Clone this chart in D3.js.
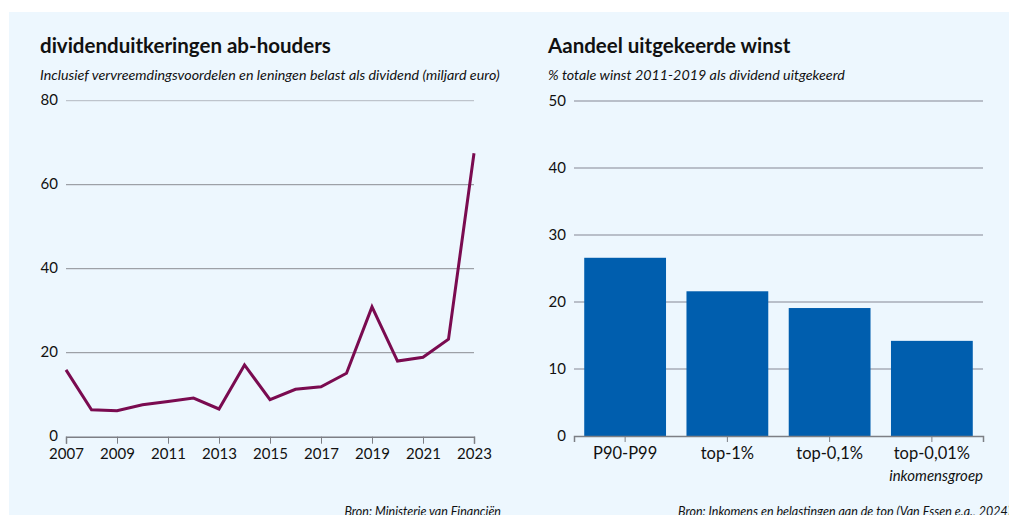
<!DOCTYPE html>
<meta charset="utf-8">
<title>dividenduitkeringen</title>
<style>
body { margin: 0; background: #fff; }
svg text { font-family: Lato, "Open Sans", sans-serif; fill: #111; }
.axis .domain { stroke: #7d7f85; }
.axis .tick line { stroke: #7d7f85; }
</style>
<svg width="1009" height="515"></svg>
<script src="https://cdn.jsdelivr.net/npm/d3@7"></script>
<script>
// data
var years = [2007, 2008, 2009, 2010, 2011, 2012, 2013, 2014, 2015, 2016, 2017, 2018, 2019, 2020, 2021, 2022, 2023];
var dividend = [15.9, 6.4, 6.2, 7.6, 8.4, 9.2, 6.6, 17.1, 8.8, 11.3, 11.9, 15.1, 30.9, 18.0, 18.9, 23.2, 67.5];
var yearTicks = [2007, 2009, 2011, 2013, 2015, 2017, 2019, 2021, 2023];
var leftTicks = [0, 20, 40, 60, 80];

var groups = ["P90-P99", "top-1%", "top-0,1%", "top-0,01%"];
var share = [26.6, 21.6, 19.1, 14.2];
var rightTicks = [0, 10, 20, 30, 40, 50];

var svg = d3.select("svg");

svg.append("rect")
  .attr("x", 9).attr("y", 12)
  .attr("width", 1000).attr("height", 503)
  .attr("fill", "#edf7fe");

// ---------- left: line chart ----------
var x1 = d3.scaleLinear().domain([2007, 2023]).range([66, 474]);
var y1 = d3.scaleLinear().domain([0, 80]).range([436.7, 100.7]);

var left = svg.append("g");

left.append("text")
  .attr("x", 40).attr("y", 53)
  .attr("font-size", 20.5).attr("font-weight", "bold")
  .text("dividenduitkeringen ab-houders");

left.append("text")
  .attr("x", 40).attr("y", 80)
  .attr("font-size", 14.3).attr("font-style", "italic")
  .text("Inclusief vervreemdingsvoordelen en leningen belast als dividend (miljard euro)");

// gridlines
left.append("g")
  .selectAll("line")
  .data(leftTicks.filter(d => d > 0))
  .enter().append("line")
  .attr("x1", 66).attr("x2", 474)
  .attr("y1", d => y1(d)).attr("y2", d => y1(d))
  .attr("stroke", d => d == 80 ? "#b3b8c0" : "#8a8d93")
  .attr("stroke-width", 1);

left.selectAll(".ylab")
  .data(leftTicks)
  .enter().append("text")
  .attr("class", "ylab")
  .attr("x", 58).attr("y", d => y1(d))
  .attr("dy", "0.3em")
  .attr("text-anchor", "end")
  .attr("font-size", 15)
  .text(d => d);

left.append("g")
  .attr("class", "axis")
  .attr("transform", "translate(0," + y1(0) + ")")
  .call(d3.axisBottom(x1).tickValues(yearTicks).tickFormat(d3.format("d")).tickSizeOuter(0).tickSize(7).tickPadding(5))
  .call(g => g.selectAll("text").attr("font-size", 15).attr("font-family", null).attr("fill", "#111"))
  .call(g => g.select(".domain").attr("stroke-width", 1.5))
  .attr("font-family", null);

var line = d3.line()
  .x((d, i) => x1(years[i]))
  .y(d => y1(d));

left.append("path")
  .datum(dividend)
  .attr("fill", "none")
  .attr("stroke", "#7a0b50")
  .attr("stroke-width", 3)
  .attr("stroke-linejoin", "miter")
  .attr("d", line);

left.append("text")
  .attr("x", 501).attr("y", 516)
  .attr("text-anchor", "end")
  .attr("font-size", 12.5).attr("font-style", "italic")
  .text("Bron: Ministerie van Financiën");

// ---------- right: bar chart ----------
var x2 = d3.scaleBand().domain(groups).range([574, 983]).paddingInner(0.2).paddingOuter(0.1);
var y2 = d3.scaleLinear().domain([0, 50]).range([436, 101]);

var right = svg.append("g");

right.append("text")
  .attr("x", 548).attr("y", 53)
  .attr("font-size", 20.5).attr("font-weight", "bold")
  .text("Aandeel uitgekeerde winst");

right.append("text")
  .attr("x", 548).attr("y", 80)
  .attr("font-size", 14.3).attr("font-style", "italic")
  .text("% totale winst 2011-2019 als dividend uitgekeerd");

right.append("g")
  .selectAll("line")
  .data(rightTicks.filter(d => d > 0))
  .enter().append("line")
  .attr("x1", 574).attr("x2", 983)
  .attr("y1", d => y2(d)).attr("y2", d => y2(d))
  .attr("stroke", "#a7adb7")
  .attr("stroke-width", 1.5);

right.selectAll(".ylab")
  .data(rightTicks)
  .enter().append("text")
  .attr("class", "ylab")
  .attr("x", 566).attr("y", d => y2(d))
  .attr("dy", "0.3em")
  .attr("text-anchor", "end")
  .attr("font-size", 15)
  .text(d => d);

right.selectAll(".bar")
  .data(share)
  .enter().append("rect")
  .attr("class", "bar")
  .attr("x", (d, i) => x2(groups[i]))
  .attr("width", x2.bandwidth())
  .attr("y", d => y2(d))
  .attr("height", d => y2(0) - y2(d))
  .attr("fill", "#005eae");

right.append("g")
  .attr("class", "axis")
  .attr("transform", "translate(0," + y2(0) + ")")
  .call(d3.axisBottom(x2).tickSizeOuter(0).tickSize(6).tickPadding(5))
  .call(g => g.selectAll("text").attr("font-size", 16.5).attr("font-family", null).attr("fill", "#111"))
  .call(g => g.select(".domain").attr("stroke-width", 1.5))
  .attr("font-family", null);

right.append("text")
  .attr("x", 983).attr("y", 481)
  .attr("text-anchor", "end")
  .attr("font-size", 15).attr("font-style", "italic")
  .text("inkomensgroep");

right.append("text")
  .attr("x", 1011).attr("y", 516)
  .attr("text-anchor", "end")
  .attr("font-size", 12.5).attr("font-style", "italic")
  .text("Bron: Inkomens en belastingen aan de top  (Van Essen e.a., 2024)");
</script>
